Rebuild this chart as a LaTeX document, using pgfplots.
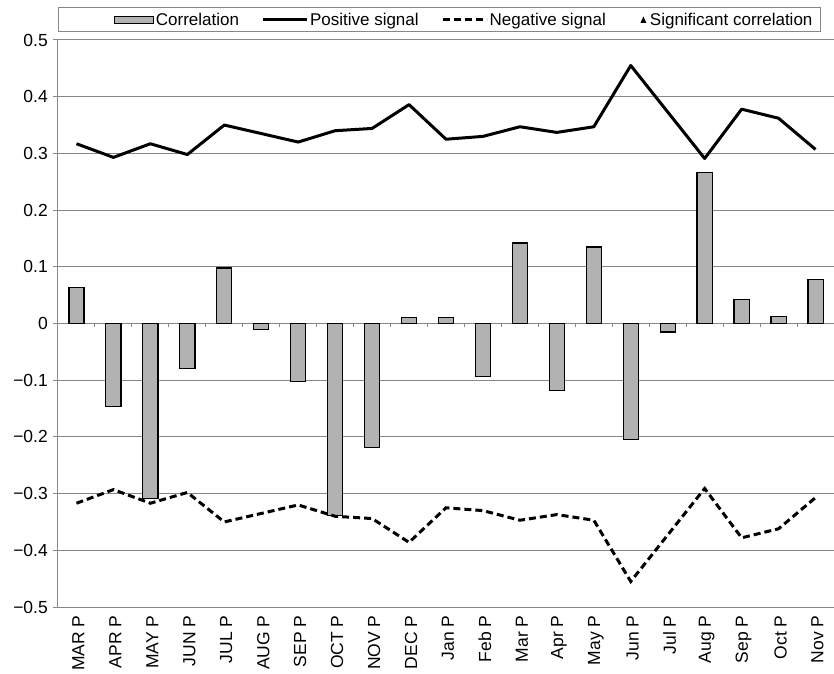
\documentclass[border=0pt]{standalone}
\usepackage{fontspec}
\setmainfont{Liberation Sans}
\usepackage{pgfplots}
\pgfplotsset{compat=1.18}
\definecolor{barfill}{RGB}{178,178,178}
\definecolor{gridc}{RGB}{135,135,135}
\newcommand{\chartfont}{\fontsize{17.5bp}{20bp}\selectfont}
\newcommand{\legfont}{\fontsize{17bp}{20bp}\selectfont}

\begin{document}
\begin{tikzpicture}
\path[use as bounding box] (-58bp,-67bp) rectangle (776bp,607bp);
\begin{axis}[
    name=ax,
    scale only axis,
    width=776bp, height=567bp,
    xmin=-0.5, xmax=20.5,
    ymin=-0.5, ymax=0.5,
    enlargelimits=false,
    axis x line*=bottom, axis y line*=left,
    axis line style={gridc, line width=1bp},
    xtick={0,...,20},
    xticklabels={MAR P,APR P,MAY P,JUN P,JUL P,AUG P,SEP P,OCT P,NOV P,DEC P,Jan P,Feb P,Mar P,Apr P,May P,Jun P,Jul P,Aug P,Sep P,Oct P,Nov P},
    x tick style={draw=none},
    xticklabel style={rotate=90, anchor=east, font=\chartfont, yshift=-2bp},
    ytick={-0.5,-0.4,-0.3,-0.2,-0.1,0,0.1,0.2,0.3,0.4,0.5},
    yticklabels={−0.5,−0.4,−0.3,−0.2,−0.1,0,0.1,0.2,0.3,0.4,0.5},
    y tick style={gridc, line width=1bp},
    tick align=outside,
    major tick length=5bp,
    ymajorgrids=true,
    grid style={gridc, line width=1bp},
    yticklabel style={font=\chartfont, inner sep=0pt},
    yticklabel shift=5bp,
    legend columns=4,
    legend style={draw=none, fill=none, font=\legfont,
        at={(0,1)}, anchor=west, xshift=53bp, yshift=20bp,
        nodes={inner sep=1.5bp},
        /tikz/every even column/.append style={column sep=21bp}},
]

% tick marks on the zero line between categories
\pgfplotsinvokeforeach{0,...,19}{
  \draw[gridc, line width=1bp] (axis cs:#1+0.5,0) -- ([yshift=-4bp]axis cs:#1+0.5,0);
}

\addplot[ybar, bar width=0.41, fill=barfill, draw=black, line width=1.2bp, forget plot]
coordinates {
(0,0.063)(1,-0.147)(2,-0.308)(3,-0.079)(4,0.098)(5,-0.010)(6,-0.102)
(7,-0.338)(8,-0.218)(9,0.010)(10,0.010)(11,-0.093)(12,0.142)(13,-0.118)
(14,0.135)(15,-0.205)(16,-0.015)(17,0.266)(18,0.042)(19,0.012)(20,0.078)
};

\addplot[black, line width=3bp, line join=round, mark=none, forget plot]
coordinates {
(0,0.317)(1,0.293)(2,0.317)(3,0.298)(4,0.350)(5,0.335)(6,0.320)
(7,0.340)(8,0.344)(9,0.386)(10,0.325)(11,0.330)(12,0.347)(13,0.337)
(14,0.347)(15,0.455)(16,0.373)(17,0.291)(18,0.378)(19,0.362)(20,0.307)
};

\addplot[black, line width=3bp, dash pattern=on 7bp off 4bp, mark=none, forget plot]
coordinates {
(0,-0.317)(1,-0.293)(2,-0.317)(3,-0.298)(4,-0.350)(5,-0.335)(6,-0.320)
(7,-0.340)(8,-0.344)(9,-0.386)(10,-0.325)(11,-0.330)(12,-0.347)(13,-0.337)
(14,-0.347)(15,-0.455)(16,-0.373)(17,-0.291)(18,-0.378)(19,-0.362)(20,-0.307)
};

\addlegendimage{legend image code/.code={\draw[fill=barfill, draw=black, line width=1.2bp] (0bp,-3.5bp) rectangle (39bp,3.5bp);}}
\addlegendentry{Correlation}
\addlegendimage{legend image code/.code={\draw[black, line width=3bp] (0bp,0bp) -- (44bp,0bp);}}
\addlegendentry{Positive signal}
\addlegendimage{legend image code/.code={\draw[black, line width=3bp, dash pattern=on 7bp off 4bp] (0bp,0bp) -- (44bp,0bp);}}
\addlegendentry{Negative signal}
\addlegendimage{legend image code/.code={\path[draw=none] (0bp,0bp) -- (20bp,0bp); \fill[black, draw=none] (15bp,3.5bp) -- (18bp,-3bp) -- (12bp,-3bp) -- cycle;}}
\addlegendentry{Significant correlation}
\end{axis}
\draw[gridc, line width=1bp] (0bp,575bp) rectangle (762bp,599bp);
\end{tikzpicture}
\end{document}
